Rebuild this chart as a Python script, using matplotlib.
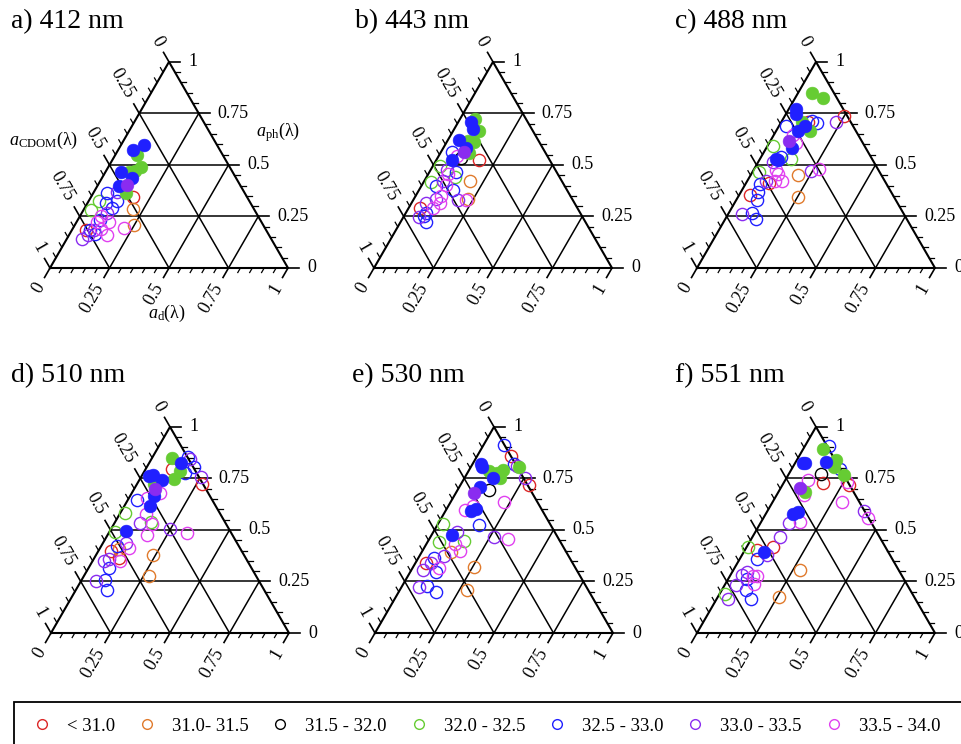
import numpy as np
import matplotlib.pyplot as plt
from matplotlib.lines import Line2D
from matplotlib.patches import Rectangle

plt.rcParams['font.family'] = 'Liberation Serif'
plt.rcParams['mathtext.fontset'] = 'custom'
plt.rcParams['mathtext.rm'] = 'Liberation Serif'
plt.rcParams['mathtext.it'] = 'Liberation Serif:italic'

salinity = ['< 31.0', '31.0- 31.5', '31.5 - 32.0', '32.0 - 32.5',
            '32.5 - 33.0', '33.0 - 33.5', '33.5 - 34.0']
colors = ['#dc2626', '#e07a2c', '#000000', '#66cc33', '#2020ff', '#8a2cf0', '#e040f0']

# fractions a_d/a and a_ph/a read off each triangle (a_CDOM = 1 - both),
# salinity class index; the first nfill points of each panel are drawn filled
d_412 = [0.063, 0.095, 0.089, 0.135, 0.121, 0.098, 0.064, 0.125, 0.092, 0.121, 0.138,
         0.177, 0.207, 0.248, 0.212, 0.055, 0.099, 0.121, 0.041, 0.079, 0.113,
         0.031, 0.104, 0.089, 0.094, 0.085, 0.058, 0.075, 0.092, 0.119, 0.158,
         0.067, 0.106, 0.139, 0.081]
ph_412 = [0.574, 0.597, 0.550, 0.491, 0.471, 0.466, 0.466, 0.435, 0.398, 0.404, 0.362,
          0.345, 0.286, 0.209, 0.196, 0.365, 0.368, 0.324, 0.326, 0.313, 0.291,
          0.280, 0.267, 0.250, 0.231, 0.221, 0.185, 0.185, 0.185, 0.188, 0.160,
          0.139, 0.165, 0.221, 0.160]
cls_412 = [4, 4, 3, 3, 3, 3, 4, 4, 4, 5, 3,
           0, 1, 1, 6, 4, 5, 4, 3, 4, 4,
           3, 5, 6, 4, 6, 0, 4, 5, 6, 6,
           5, 4, 6, 5]
nfill_412 = 11

d_443 = [0.062, 0.108, 0.053, 0.081, 0.115, 0.086, 0.048, 0.097, 0.123, 0.096, 0.065,
         0.179, 0.099, 0.076, 0.047, 0.031, 0.069, 0.112, 0.082, 0.118, 0.192,
         0.028, 0.061, 0.078, 0.099, 0.141, 0.108, 0.120, 0.188, 0.222, 0.228,
         0.045, 0.058, 0.101, 0.083, 0.065, 0.082, 0.109, 0.093]
ph_443 = [0.725, 0.666, 0.709, 0.674, 0.613, 0.617, 0.622, 0.581, 0.556, 0.561, 0.523,
          0.523, 0.535, 0.544, 0.564, 0.493, 0.474, 0.465, 0.457, 0.441, 0.424,
          0.419, 0.396, 0.424, 0.403, 0.380, 0.350, 0.317, 0.329, 0.330, 0.337,
          0.293, 0.317, 0.293, 0.268, 0.248, 0.252, 0.222, 0.337]
cls_443 = [3, 3, 4, 4, 3, 3, 4, 4, 3, 5, 4,
           0, 2, 6, 4, 3, 5, 4, 6, 3, 1,
           3, 4, 5, 6, 4, 6, 6, 5, 6, 1,
           0, 5, 6, 4, 5, 4, 4, 5]
nfill_443 = 11

d_488 = [0.061, 0.118, 0.033, 0.042, 0.085, 0.109, 0.093, 0.141, 0.079, 0.107, 0.065, 0.079,
         0.249, 0.229, 0.153, 0.129, 0.113, 0.032, 0.081, 0.112, 0.023, 0.085,
         0.131, 0.063, 0.026, 0.097, 0.115, 0.147, 0.112, 0.200, 0.243, 0.274,
         0.060, 0.080, 0.097, 0.045, 0.087, 0.252, 0.061, 0.095, 0.128, 0.072]
ph_488 = [0.847, 0.824, 0.770, 0.745, 0.709, 0.687, 0.666, 0.666, 0.617, 0.581, 0.531, 0.523,
          0.737, 0.709, 0.704, 0.712, 0.709, 0.687, 0.646, 0.605, 0.594, 0.539,
          0.531, 0.515, 0.465, 0.474, 0.424, 0.424, 0.457, 0.449, 0.469, 0.479,
          0.408, 0.424, 0.413, 0.354, 0.331, 0.345, 0.260, 0.268, 0.238, 0.370]
cls_488 = [3, 3, 4, 4, 3, 4, 4, 3, 5, 4, 4, 4,
           0, 5, 4, 4, 0, 4, 6, 6, 3, 4,
           3, 5, 3, 6, 6, 6, 6, 1, 5, 6,
           4, 5, 0, 0, 4, 1, 5, 4, 4, 4]
nfill_488 = 12

d_510 = [0.085, 0.133, 0.151, 0.143, 0.030, 0.045, 0.097, 0.070, 0.085, 0.101, 0.106, 0.069,
         0.149, 0.161, 0.199, 0.172, 0.250, 0.273, 0.112, 0.120, 0.039, 0.074,
         0.113, 0.021, 0.108, 0.151, 0.161, 0.166, 0.250, 0.329, 0.026, 0.066,
         0.098, 0.121, 0.054, 0.081, 0.104, 0.117, 0.238, 0.048, 0.064, 0.087,
         0.273, 0.061, 0.098, 0.131]
ph_510 = [0.849, 0.827, 0.786, 0.745, 0.762, 0.766, 0.740, 0.724, 0.701, 0.663, 0.618, 0.495,
          0.852, 0.844, 0.803, 0.778, 0.757, 0.724, 0.794, 0.679, 0.646, 0.655,
          0.576, 0.584, 0.536, 0.539, 0.528, 0.477, 0.503, 0.487, 0.490, 0.424,
          0.438, 0.411, 0.400, 0.408, 0.362, 0.350, 0.380, 0.347, 0.359, 0.313,
          0.276, 0.252, 0.257, 0.211]
cls_510 = [3, 4, 3, 3, 4, 4, 4, 3, 5, 4, 4, 4,
           4, 5, 4, 4, 5, 0, 0, 6, 4, 6,
           6, 3, 5, 3, 6, 6, 5, 6, 3, 4,
           5, 6, 0, 1, 0, 6, 1, 5, 5, 4,
           1, 5, 4, 4]
nfill_510 = 12

d_530 = [0.035, 0.047, 0.085, 0.124, 0.143, 0.149, 0.118, 0.203, 0.085, 0.078, 0.108, 0.124, 0.085,
         0.087, 0.144, 0.175, 0.192, 0.254, 0.288, 0.133, 0.224, 0.078, 0.105,
         0.176, 0.266, 0.330, 0.023, 0.098, 0.047, 0.118, 0.154, 0.159, 0.120,
         0.255, 0.280, 0.104, 0.067, 0.065, 0.044, 0.113, 0.050, 0.107, 0.074,
         0.105, 0.158]
ph_530 = [0.822, 0.803, 0.786, 0.778, 0.789, 0.750, 0.753, 0.803, 0.709, 0.679, 0.592, 0.600, 0.474,
          0.914, 0.859, 0.822, 0.811, 0.750, 0.720, 0.696, 0.635, 0.597, 0.617,
          0.523, 0.465, 0.457, 0.528, 0.490, 0.441, 0.433, 0.444, 0.400, 0.395,
          0.321, 0.211, 0.372, 0.362, 0.339, 0.339, 0.313, 0.306, 0.296, 0.222,
          0.230, 0.197]
cls_530 = [4, 4, 3, 3, 3, 3, 4, 3, 4, 5, 4, 4, 4,
           4, 0, 4, 5, 5, 0, 2, 6, 6, 6,
           4, 5, 6, 3, 5, 3, 6, 3, 6, 1,
           1, 1, 5, 4, 5, 0, 6, 5, 4, 5,
           4, 4]
nfill_530 = 13

d_551 = [0.083, 0.032, 0.042, 0.125, 0.164, 0.172, 0.234, 0.080, 0.112, 0.116, 0.131, 0.085,
         0.102, 0.205, 0.138, 0.166, 0.097, 0.264, 0.280, 0.115, 0.293, 0.405,
         0.441, 0.119, 0.165, 0.115, 0.112, 0.050, 0.007, 0.107, 0.073, 0.280,
         0.059, 0.047, 0.098, 0.114, 0.078, 0.118, 0.047, 0.100, 0.024, 0.048,
         0.144, 0.259]
ph_551 = [0.893, 0.827, 0.827, 0.832, 0.839, 0.806, 0.766, 0.704, 0.683, 0.576, 0.589, 0.395,
          0.905, 0.794, 0.770, 0.729, 0.740, 0.734, 0.720, 0.668, 0.635, 0.594,
          0.556, 0.535, 0.539, 0.465, 0.416, 0.405, 0.416, 0.378, 0.359, 0.304,
          0.298, 0.280, 0.276, 0.276, 0.260, 0.240, 0.235, 0.211, 0.189, 0.164,
          0.164, 0.173]
cls_551 = [3, 4, 4, 4, 3, 3, 3, 5, 3, 4, 4, 4,
           4, 4, 2, 0, 6, 6, 0, 6, 6, 5,
           6, 5, 6, 5, 0, 0, 3, 5, 4, 1,
           5, 5, 6, 6, 4, 6, 5, 4, 3, 5,
           4, 1]
nfill_551 = 12

panels = [
    ('a) 412 nm', d_412, ph_412, cls_412, nfill_412),
    ('b) 443 nm', d_443, ph_443, cls_443, nfill_443),
    ('c) 488 nm', d_488, ph_488, cls_488, nfill_488),
    ('d) 510 nm', d_510, ph_510, cls_510, nfill_510),
    ('e) 530 nm', d_530, ph_530, cls_530, nfill_530),
    ('f) 551 nm', d_551, ph_551, cls_551, nfill_551),
]

W, H = 962, 744
SIDE = 238  # triangle side in pixels
# bottom-left corner of each triangle and title position (pixels)
corners = [(50, 268), (374, 268), (697, 268), (51, 633), (375, 633), (697, 633)]
title_x = [11, 355, 675, 11, 352, 675]
title_y = [22, 22, 22, 376, 376, 376]

S3 = np.sqrt(3) / 2


def to_xy(d, ph):
    d = np.asarray(d, dtype=float)
    ph = np.asarray(ph, dtype=float)
    return d + ph / 2, ph * S3


def draw_frame(ax):
    x, y = to_xy([0, 1, 0, 0], [0, 0, 1, 0])
    ax.plot(x, y, color='black', lw=1.5, clip_on=False)
    for t in (0.25, 0.5, 0.75):
        for dd, pp in (([0, 1 - t], [t, t]), ([t, t], [0, 1 - t]), ([0, 1 - t], [1 - t, 0])):
            x, y = to_xy(dd, pp)
            ax.plot(x, y, color='black', lw=1.1, clip_on=False)
    labels = {0: '0', 5: '0.25', 10: '0.5', 15: '0.75', 20: '1'}
    for i in range(21):
        t = i / 20
        L = 0.046 if i % 5 == 0 else 0.022
        lw = 1.2 if i % 5 == 0 else 0.9
        # right side: a_ph
        px, py = to_xy(1 - t, t)
        ax.plot([px, px + L], [py, py], color='black', lw=lw, clip_on=False)
        # bottom: a_d
        bx, by = to_xy(t, 0)
        ax.plot([bx, bx - 0.5 * L], [by, by - S3 * L], color='black', lw=lw, clip_on=False)
        # left side: a_CDOM
        lx, ly = to_xy(0, 1 - t)
        ax.plot([lx, lx - 0.5 * L], [ly, ly + S3 * L], color='black', lw=lw, clip_on=False)
        if i in labels:
            r = 0.08
            ax.text(px + r, py, labels[i], ha='left', va='center', fontsize=13)
            ax.text(bx - 0.5 * r, by - S3 * r, labels[i], rotation=60,
                    rotation_mode='anchor', ha='right', va='center', fontsize=13)
            ax.text(lx - 0.5 * r, ly + S3 * r, labels[i], rotation=-60,
                    rotation_mode='anchor', ha='right', va='center', fontsize=13)


fig = plt.figure(figsize=(W / 100, H / 100), dpi=100)

x0, x1, y0, y1 = -0.35, 1.35, -0.4, 1.15
for k, (title, d, ph, cls, nfill) in enumerate(panels):
    cx, cy = corners[k]
    left = (cx + x0 * SIDE) / W
    bottom = 1 - (cy - y0 * SIDE) / H
    ax = fig.add_axes([left, bottom, (x1 - x0) * SIDE / W, (y1 - y0) * SIDE / H])
    ax.set_xlim(x0, x1)
    ax.set_ylim(y0, y1)
    ax.axis('off')
    draw_frame(ax)

    x, y = to_xy(d, ph)
    cls = np.asarray(cls)
    filled = np.arange(len(cls)) < nfill
    for c in range(7):
        m = (cls == c) & ~filled
        ax.plot(x[m], y[m], 'o', ms=8.8, mfc='none', mec=colors[c], mew=1.0,
                clip_on=False, zorder=3)
    for c in range(7):
        m = (cls == c) & filled
        ax.plot(x[m], y[m], 'o', ms=9.2, mfc=colors[c], mec=colors[c], mew=0.4,
                clip_on=False, zorder=4)

    fig.text(title_x[k] / W, 1 - title_y[k] / H, title, ha='left', va='center', fontsize=20)

    if k == 0:
        ax.text(-0.025, 0.538, r'$a_{\mathrm{CDOM}}(\mathrm{\lambda})$', ha='center',
                va='center', fontsize=13)
        ax.text(0.956, 0.571, r'$a_{\mathrm{ph}}(\mathrm{\lambda})$', ha='center',
                va='center', fontsize=13)
        ax.text(0.489, -0.189, r'$a_{\mathrm{d}}(\mathrm{\lambda})$', ha='center',
                va='center', fontsize=13)

# legend box runs past the right and bottom edges
fig.patches.append(Rectangle((14 / W, -0.05), 1.0, 1 - 701.5 / H + 0.05,
                             transform=fig.transFigure, fill=False,
                             edgecolor='black', lw=1.3))
handles = [Line2D([], [], ls='none', marker='o', ms=7.0, mfc='none', mec=c, mew=1.0)
           for c in colors]
fig.legend(handles, salinity, ncol=7, loc='center left', frameon=False,
           bbox_to_anchor=(32.6 / W, 1 - 726 / H), borderpad=0, borderaxespad=0,
           handlelength=1.0, handletextpad=0.83, columnspacing=1.2, fontsize=13.5)

fig.savefig('out.png', dpi=100)
